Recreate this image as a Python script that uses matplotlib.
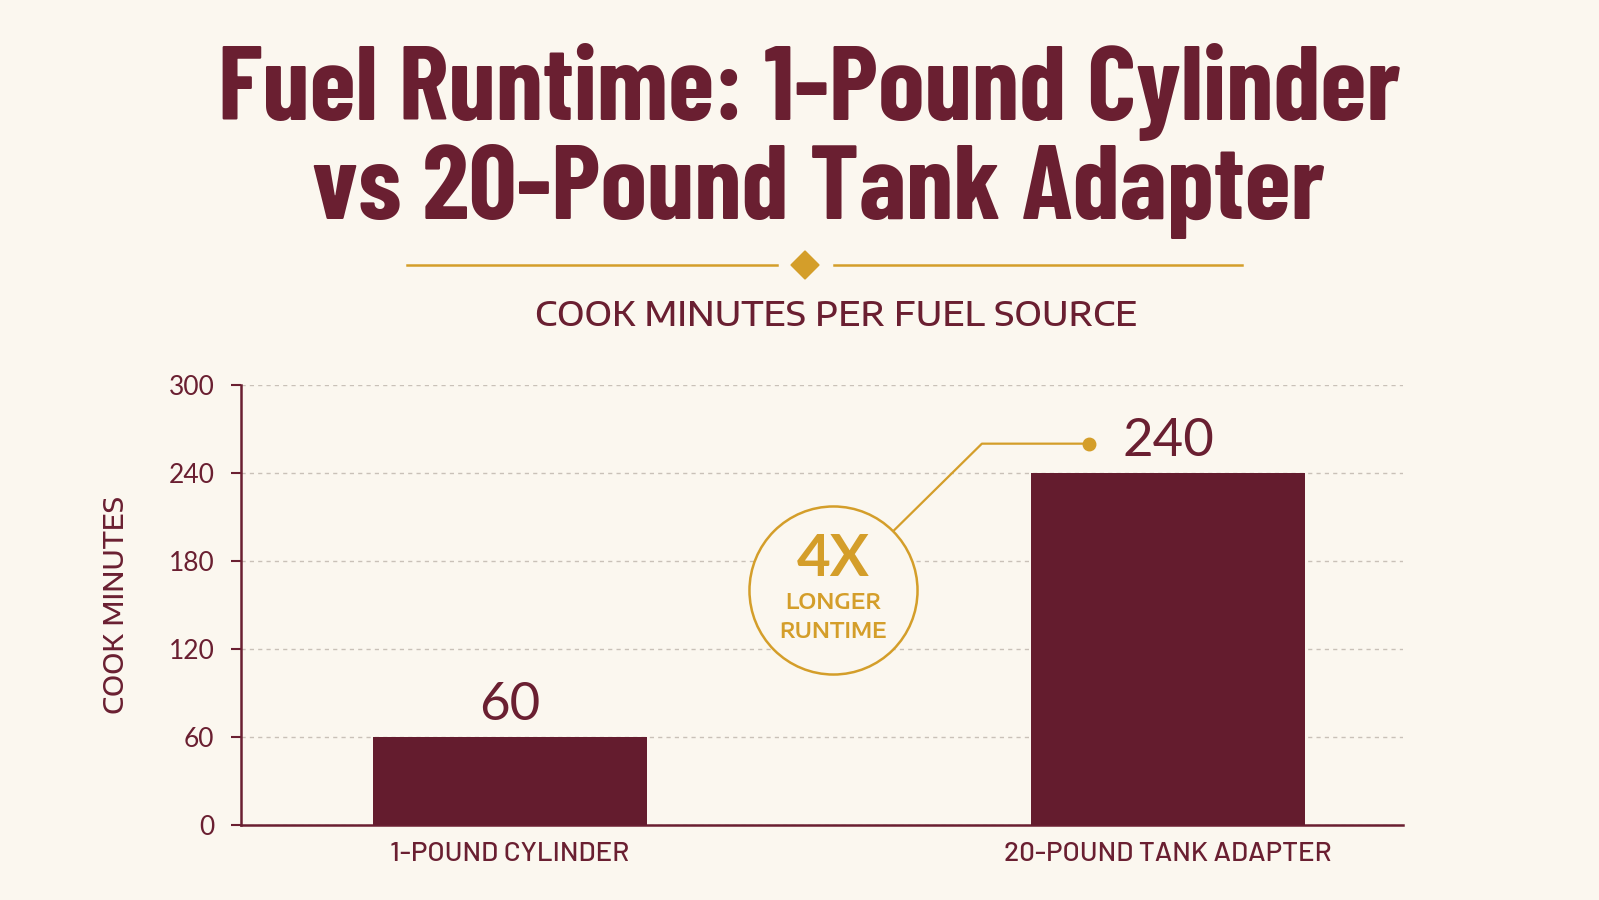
"""Fuel runtime bar chart: 1-lb cylinder vs 20-lb tank adapter."""
import matplotlib

matplotlib.use("Agg")
import matplotlib.pyplot as plt
from matplotlib.patches import Polygon

categories = ["1-POUND CYLINDER", "20-POUND TANK ADAPTER"]
minutes = [60, 240]
yticks = [0, 60, 120, 180, 240, 300]
title_lines = ["Fuel Runtime: 1-Pound Cylinder", "vs 20-Pound Tank Adapter"]
subtitle = "COOK MINUTES PER FUEL SOURCE"
ylabel = "COOK MINUTES"
callout_big = "4X"
callout_small = ["LONGER", "RUNTIME"]

BG = "#FBF7EF"
MAROON = "#6A1F31"
BAR = "#641C2E"
GOLD = "#D49E2A"
GRID = "#C9C1B8"

COND = ["Barlow Condensed", "DejaVu Sans"]
BARLOW = ["Barlow", "DejaVu Sans"]
WIDE = ["Encode Sans Expanded", "DejaVu Sans"]
SEMIWIDE = ["Encode Sans Semi Expanded", "DejaVu Sans"]
SANS = ["Lato", "DejaVu Sans"]

fig = plt.figure(figsize=(15.99, 9), dpi=100, facecolor=BG)

# title block
fig.text(0.506, 1 - 120 / 900, title_lines[0], ha="center", va="baseline",
         fontsize=76, fontweight="bold", family=COND, color=MAROON)
fig.text(0.512, 1 - 219 / 900, title_lines[1], ha="center", va="baseline",
         fontsize=76, fontweight="bold", family=COND, color=MAROON)

# divider with diamond
ydiv = 1 - 265 / 900
fig.add_artist(plt.Line2D([407 / 1599, 777 / 1599], [ydiv, ydiv], color=GOLD, lw=1.8))
fig.add_artist(plt.Line2D([834 / 1599, 1242 / 1599], [ydiv, ydiv], color=GOLD, lw=1.8))
cx, hw, hh = 805 / 1599, 14 / 1599, 14 / 900
fig.add_artist(Polygon([(cx, ydiv + hh), (cx + hw, ydiv), (cx, ydiv - hh), (cx - hw, ydiv)],
                       closed=True, transform=fig.transFigure, color=GOLD))

fig.text(836 / 1599, 1 - 316 / 900, subtitle, ha="center", va="center",
         fontsize=25, fontweight="medium", family=SEMIWIDE, color=MAROON)

# chart
ax = fig.add_axes([241 / 1599, 75 / 900, 1162 / 1599, 440 / 900])
ax.set_facecolor(BG)
x = list(range(len(categories)))
bars = ax.bar(x, minutes, width=0.416, color=BAR, zorder=3)
ax.bar_label(bars, labels=[str(v) for v in minutes], padding=6,
             fontsize=38, family=SANS, color=MAROON)

ax.set_xlim(-0.409, 1.357)
ax.set_ylim(0, 300)
ax.set_yticks(yticks)
ax.set_xticks(x)
ax.set_xticklabels(categories, family=BARLOW, fontsize=20, fontweight="medium", color=MAROON)
ax.tick_params(axis="x", length=0, pad=12)
ax.tick_params(axis="y", length=7, width=1.5, color=MAROON, pad=12,
               labelsize=19, labelcolor=MAROON)
for lab in ax.get_yticklabels():
    lab.set_family(SANS)
ax.set_ylabel(ylabel, family=WIDE, fontsize=19, fontweight="medium", color=MAROON,
              labelpad=28)

for s in ["top", "right"]:
    ax.spines[s].set_visible(False)
for s in ["left", "bottom"]:
    ax.spines[s].set_color(MAROON)
    ax.spines[s].set_linewidth(1.8)

ax.grid(axis="y", color=GRID, linestyle=(0, (3, 3)), linewidth=1, zorder=0)
ax.set_axisbelow(True)

# 4X callout
circ_x, circ_y = 0.491, 160
knee_x, dot_x = 0.717, 0.88
dot_y = minutes[1] + 20
ax.plot([circ_x, knee_x, dot_x], [circ_y, dot_y, dot_y], color=GOLD, lw=1.6, zorder=4)
ax.plot([dot_x], [dot_y], "o", color=GOLD, markersize=9, zorder=5)
ax.plot([circ_x], [circ_y], "o", markersize=121, markerfacecolor=BG,
        markeredgecolor=GOLD, markeredgewidth=1.8, zorder=6)
ax.annotate(callout_big, (circ_x, circ_y), xytext=(0, 22), textcoords="offset points",
            ha="center", va="center", fontsize=42, fontweight="bold", family=SANS,
            color=GOLD, zorder=7)
ax.annotate(callout_small[0], (circ_x, circ_y), xytext=(0, -9), textcoords="offset points",
            ha="center", va="center", fontsize=15, fontweight="semibold", family=WIDE,
            color=GOLD, zorder=7)
ax.annotate(callout_small[1], (circ_x, circ_y), xytext=(0, -30), textcoords="offset points",
            ha="center", va="center", fontsize=15, fontweight="semibold", family=WIDE,
            color=GOLD, zorder=7)

fig.savefig("out.png", dpi=100, facecolor=BG)
